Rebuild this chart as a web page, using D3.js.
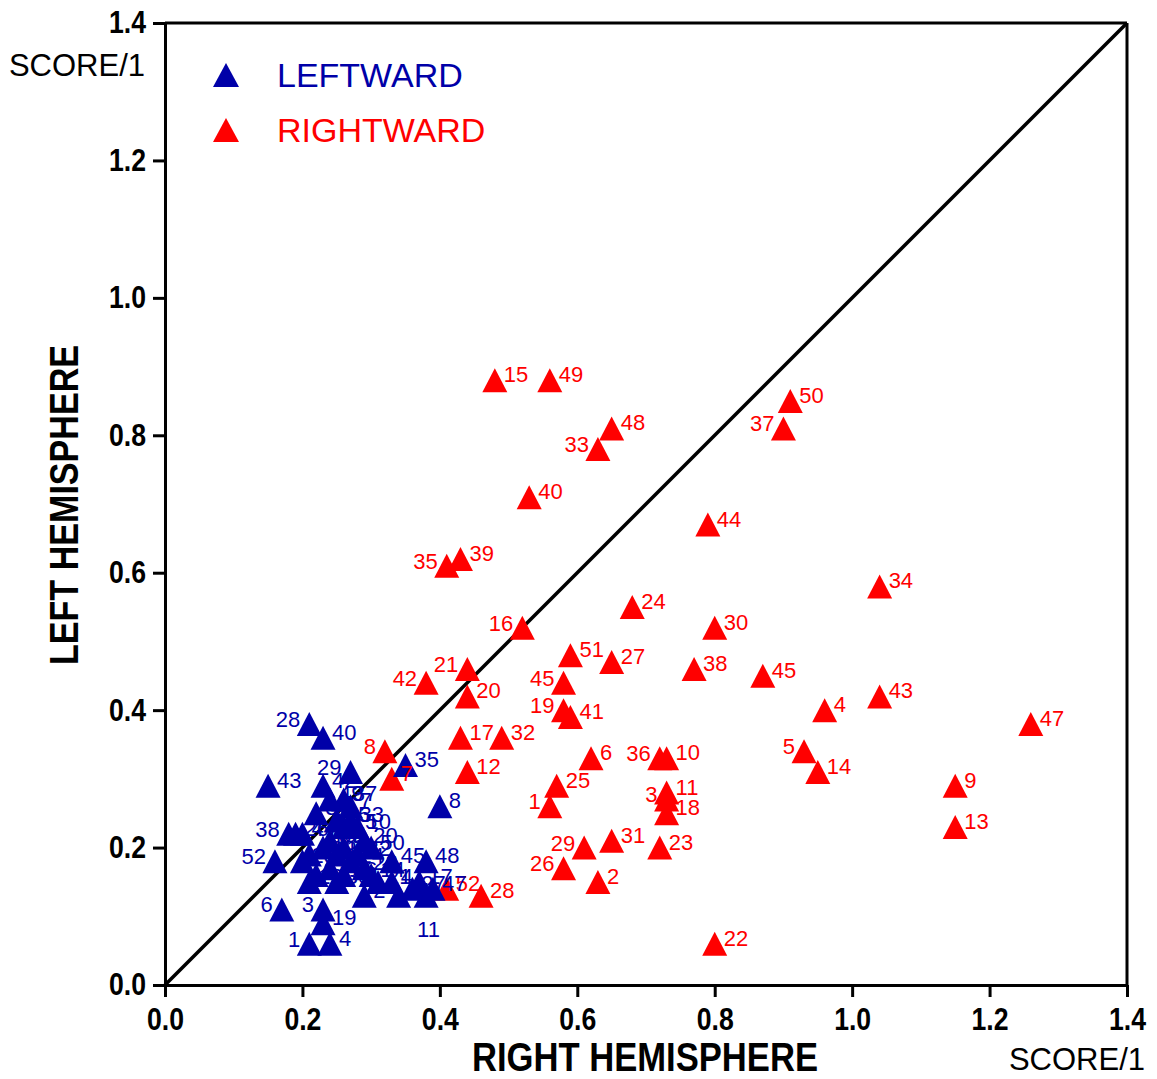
<!DOCTYPE html>
<html>
<head>
<meta charset="utf-8">
<script src="https://cdn.jsdelivr.net/npm/d3@7"></script>
<style>
  body { margin: 0; background: #fff; }
  svg { display: block; }
</style>
</head>
<body>
<div id="chart"></div>
<script>
/* CONSTANTS */
const width = 1157,
  height = 1079,
  margin = { top: 23, right: 30, bottom: 94, left: 165 };

const blue = "#0000a8",
  red = "#ff0000";

// rightward points (red)
const redLabels = ["1","2","3","4","5","6","7","8","9","10","11","12","13","14","15","16","17","18","19","20",
  "21","22","23","24","25","26","27","28","29","30","31","32","33","34","35","36","37","38","39","40",
  "41","42","43","44","45","45","47","48","49","50","51","52"];
const redX = [0.56,0.63,0.73,0.96,0.93,0.62,0.33,0.32,1.15,0.73,0.73,0.44,1.15,0.95,0.48,0.52,0.43,0.73,0.58,0.44,
  0.44,0.80,0.72,0.68,0.57,0.58,0.65,0.46,0.61,0.80,0.65,0.49,0.63,1.04,0.41,0.72,0.90,0.77,0.43,0.53,
  0.59,0.38,1.04,0.79,0.58,0.87,1.26,0.65,0.56,0.91,0.59,0.41];
const redY = [0.26,0.15,0.27,0.40,0.34,0.33,0.30,0.34,0.29,0.33,0.28,0.31,0.23,0.31,0.88,0.52,0.36,0.25,0.40,0.42,
  0.46,0.06,0.20,0.55,0.29,0.17,0.47,0.13,0.20,0.52,0.21,0.36,0.78,0.58,0.61,0.33,0.81,0.46,0.62,0.71,
  0.39,0.44,0.42,0.67,0.44,0.45,0.38,0.81,0.88,0.85,0.48,0.14];

// leftward points (blue)
const blueLabels = ["1","2","3","4","5","6","7","8","9","10","11","12","13","14","15","16","17","18","19","20",
  "21","22","23","24","25","26","27","28","29","30","31","32","33","34","35","36","37","38","39","40",
  "41","42","43","44","45","47","48","49","50","51","52"];
const blueX = [0.21,0.29,0.23,0.24,0.26,0.17,0.27,0.40,0.24,0.28,0.38,0.21,0.25,0.30,0.26,0.21,0.37,0.23,0.23,0.29,
  0.31,0.29,0.20,0.27,0.25,0.19,0.36,0.21,0.27,0.25,0.34,0.28,0.27,0.22,0.35,0.26,0.26,0.18,0.24,0.23,
  0.33,0.23,0.15,0.20,0.33,0.39,0.38,0.24,0.30,0.22,0.16];
const blueY = [0.06,0.13,0.11,0.06,0.20,0.11,0.26,0.26,0.17,0.23,0.13,0.15,0.19,0.16,0.23,0.19,0.15,0.20,0.09,0.21,
  0.15,0.17,0.18,0.18,0.24,0.22,0.14,0.38,0.31,0.15,0.13,0.19,0.24,0.25,0.32,0.16,0.27,0.22,0.21,0.36,
  0.15,0.29,0.29,0.22,0.18,0.14,0.18,0.27,0.20,0.16,0.18];

const tickValues = [0, 0.2, 0.4, 0.6, 0.8, 1.0, 1.2, 1.4];

// which side the number sits on (default: right)
const redLabelSide = { "1": "l", "3": "l", "5": "l", "8": "l", "16": "l", "19": "l", "21": "l", "26": "l",
  "29": "l", "33": "l", "35": "l", "36": "l", "37": "l", "42": "l" };
const blueLabelSide = { "1": "l", "3": "l", "6": "l", "28": "l", "29": "l", "38": "l", "52": "l", "11": "b" };

const redPoints = redLabels.map((d, i) => ({ label: d, x: redX[i], y: redY[i], color: red,
  side: (d === "45" && redX[i] < 0.7) ? "l" : (redLabelSide[d] || "r") }));
const bluePoints = blueLabels.map((d, i) => ({ label: d, x: blueX[i], y: blueY[i], color: blue,
  side: blueLabelSide[d] || "r" }));

/* SCALES */
const xScale = d3.scaleLinear().domain([0, 1.4]).range([margin.left, width - margin.right]);
const yScale = d3.scaleLinear().domain([0, 1.4]).range([height - margin.bottom, margin.top]);

const svg = d3.select("#chart").append("svg")
  .attr("width", width)
  .attr("height", height);

const sans = "'Liberation Sans', Arial, sans-serif";

// triangle path centred on the point
const tri = (w, h) => `M0,${-h / 2}L${w / 2},${h / 2}L${-w / 2},${h / 2}Z`;

/* AXES */
const xAxis = d3.axisBottom(xScale).tickValues(tickValues).tickFormat(d3.format(".1f"))
  .tickSizeInner(12).tickSizeOuter(0).tickPadding(11);
const yAxis = d3.axisLeft(yScale).tickValues(tickValues).tickFormat(d3.format(".1f"))
  .tickSizeInner(12).tickSizeOuter(0).tickPadding(7);

const gx = svg.append("g")
  .attr("transform", `translate(0,${height - margin.bottom})`)
  .call(xAxis);
const gy = svg.append("g")
  .attr("transform", `translate(${margin.left},0)`)
  .call(yAxis);

// condensed bold look for the tick numbers
[gx, gy].forEach(g => {
  g.selectAll("path, line").attr("stroke", "#000").attr("stroke-width", 3);
  g.selectAll("text")
    .attr("fill", "#000")
    .attr("textLength", 37)
    .attr("lengthAdjust", "spacingAndGlyphs")
    .style("font-family", sans)
    .style("font-weight", "bold")
    .style("font-size", "31px");
});

// frame top and right
svg.append("line")
  .attr("x1", xScale(0)).attr("x2", xScale(1.4))
  .attr("y1", yScale(1.4)).attr("y2", yScale(1.4))
  .attr("stroke", "#000").attr("stroke-width", 3);
svg.append("line")
  .attr("x1", xScale(1.4)).attr("x2", xScale(1.4))
  .attr("y1", yScale(0)).attr("y2", yScale(1.4))
  .attr("stroke", "#000").attr("stroke-width", 3);

// identity line
svg.append("line")
  .attr("x1", xScale(0)).attr("y1", yScale(0))
  .attr("x2", xScale(1.4)).attr("y2", yScale(1.4))
  .attr("stroke", "#000").attr("stroke-width", 3.5);

/* POINTS */
const allPoints = redPoints.concat(bluePoints);

svg.append("g").selectAll("path")
  .data(allPoints)
  .join("path")
  .attr("d", tri(25, 24))
  .attr("transform", d => `translate(${xScale(d.x)},${yScale(d.y)})`)
  .attr("fill", d => d.color);

svg.append("g").selectAll("text")
  .data(allPoints)
  .join("text")
  .attr("x", d => xScale(d.x) + (d.side === "l" ? -9 : d.side === "b" ? -9 : 9))
  .attr("y", d => yScale(d.y) + (d.side === "b" ? 41 : d.side === "l" ? 3 : 2))
  .attr("text-anchor", d => d.side === "l" ? "end" : "start")
  .attr("fill", d => d.color)
  .style("font-family", sans)
  .style("font-size", "22px")
  .text(d => d.label);

/* LEGEND */
const legend = [
  { name: "LEFTWARD", color: blue },
  { name: "RIGHTWARD", color: red }
];
const lg = svg.append("g").selectAll("g")
  .data(legend)
  .join("g")
  .attr("transform", (d, i) => `translate(226,${75 + i * 55})`);
lg.append("path").attr("d", tri(26, 24)).attr("fill", d => d.color);
lg.append("text")
  .attr("x", 51)
  .attr("y", 12)
  .attr("fill", d => d.color)
  .style("font-family", sans)
  .style("font-size", "34px")
  .text(d => d.name);

/* TITLES */
svg.append("text")
  .attr("x", 645)
  .attr("y", 1071)
  .attr("text-anchor", "middle")
  .attr("textLength", 346)
  .attr("lengthAdjust", "spacingAndGlyphs")
  .style("font-family", sans)
  .style("font-weight", "bold")
  .style("font-size", "40px")
  .text("RIGHT HEMISPHERE");

svg.append("text")
  .attr("transform", "translate(78,505) rotate(-90)")
  .attr("text-anchor", "middle")
  .attr("textLength", 320)
  .attr("lengthAdjust", "spacingAndGlyphs")
  .style("font-family", sans)
  .style("font-weight", "bold")
  .style("font-size", "40px")
  .text("LEFT HEMISPHERE");

svg.append("text")
  .attr("x", 145)
  .attr("y", 76)
  .attr("text-anchor", "end")
  .style("font-family", sans)
  .style("font-size", "31px")
  .text("SCORE/1");

svg.append("text")
  .attr("x", 1145)
  .attr("y", 1070)
  .attr("text-anchor", "end")
  .style("font-family", sans)
  .style("font-size", "31px")
  .text("SCORE/1");
</script>
</body>
</html>
